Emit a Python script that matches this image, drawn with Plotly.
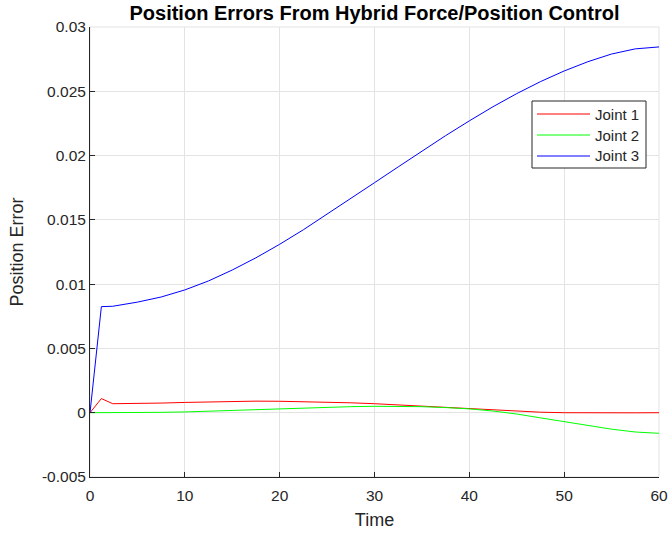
import plotly.graph_objects as go

# Time samples
time = [0, 1.2, 2.4, 5, 7.5, 10, 12.5, 15, 17.5, 20, 22.5, 25, 27.5, 30,
        32.5, 35, 37.5, 40, 42.5, 45, 47.5, 50, 52.5, 55, 57.5, 60]

joint1 = [0, 0.0011, 0.0007, 0.0007, 0.00075, 0.0008, 0.00085, 0.00088, 0.0009,
          0.00089, 0.00086, 0.00082, 0.00077, 0.0007, 0.0006, 0.0005, 0.0004,
          0.0003, 0.0002, 0.00011, 0.00004, 0.0, -0.00002, -0.00002, -0.00001, 0.0]

joint2 = [0, 0, 0, 0, 0.00003, 0.00006, 0.00012, 0.0002, 0.00027, 0.00033,
          0.00038, 0.00043, 0.00047, 0.0005, 0.0005, 0.00047, 0.0004, 0.0003,
          0.00013, -0.0001, -0.0004, -0.0007, -0.001, -0.00128, -0.0015, -0.0016]

joint3 = [0, 0.00825, 0.00828, 0.0086, 0.0090, 0.00955, 0.01025, 0.0111, 0.01205,
          0.0131, 0.01423, 0.01543, 0.01666, 0.01789, 0.01912, 0.02035, 0.02155,
          0.0227, 0.0238, 0.02482, 0.02575, 0.02658, 0.0273, 0.0279, 0.0283, 0.02845]

series_names = ["Joint 1", "Joint 2", "Joint 3"]
series_colors = ["#ff0000", "#00ff00", "#0000ff"]

x_ticks = [0, 10, 20, 30, 40, 50, 60]
y_ticks = [-0.005, 0, 0.005, 0.01, 0.015, 0.02, 0.025, 0.03]
y_tick_text = ["-0.005", "0", "0.005", "0.01", "0.015", "0.02", "0.025", "0.03"]

FONT = "Liberation Sans, Arial, Helvetica, sans-serif"
W, H = 672, 533
ML, MR, MT, MB = 90, 13, 27, 56
PW, PH = W - ML - MR, H - MT - MB

def px_x(p):
    return (p - ML) / PW

def px_y(p):
    return (H - MB - p) / PH

fig = go.Figure()
for name, col, ys in zip(series_names, series_colors, [joint1, joint2, joint3]):
    fig.add_trace(go.Scatter(x=time, y=ys, mode="lines", name=name,
                             line=dict(color=col, width=1), showlegend=False))

fig.update_layout(
    width=W, height=H,
    margin=dict(l=ML, r=MR, t=MT, b=MB),
    paper_bgcolor="white", plot_bgcolor="white",
    font=dict(family=FONT, color="#262626", size=15),
    title=dict(text="<b>Position Errors From Hybrid Force/Position Control</b>",
               x=(ML + W - MR) / 2 / W, xanchor="center", y=1 - 13 / H, yanchor="middle",
               font=dict(size=20, color="black", family=FONT)),
    showlegend=False,
)

fig.update_xaxes(range=[0, 60], tickvals=x_ticks, ticks="inside", ticklen=5,
                 tickcolor="#262626", showline=True, linecolor="#262626", linewidth=1,
                 showgrid=True, gridcolor="#e3e3e3", gridwidth=1, zeroline=False,
                 automargin=False, ticklabelstandoff=4,
                 title=dict(text="Time", font=dict(size=18), standoff=10),
                 tickfont=dict(size=15.5))
fig.update_yaxes(range=[-0.005, 0.03], tickvals=y_ticks, ticktext=y_tick_text,
                 ticks="inside", ticklen=5, tickcolor="#262626",
                 showline=True, linecolor="#262626", linewidth=1,
                 showgrid=True, gridcolor="#e3e3e3", gridwidth=1, zeroline=False,
                 automargin=False,
                 title=dict(text="Position Error", font=dict(size=18), standoff=13),
                 tickfont=dict(size=15.5))

# plot box (light top/right edges)
fig.add_shape(type="rect", xref="paper", yref="paper", x0=0, y0=0, x1=1, y1=1,
              line=dict(color="#e3e3e3", width=1), layer="below")

# legend box drawn in paper coordinates
fig.add_shape(type="rect", xref="paper", yref="paper",
              x0=px_x(532), x1=px_x(646), y0=px_y(168), y1=px_y(101),
              line=dict(color="#262626", width=1), fillcolor="white", layer="above")
row_y = [114, 135, 156]
for name, col, ry in zip(series_names, series_colors, row_y):
    fig.add_shape(type="line", xref="paper", yref="paper",
                  x0=px_x(537), x1=px_x(590), y0=px_y(ry), y1=px_y(ry),
                  line=dict(color=col, width=1), layer="above")
    fig.add_annotation(xref="paper", yref="paper", x=px_x(593), y=px_y(ry),
                       xanchor="left", yanchor="middle", showarrow=False,
                       text=name, font=dict(size=15, color="#262626", family=FONT))

fig.write_html("out.html", config={"displayModeBar": False},
               post_script="document.body.style.margin='0';document.body.style.padding='0';")
